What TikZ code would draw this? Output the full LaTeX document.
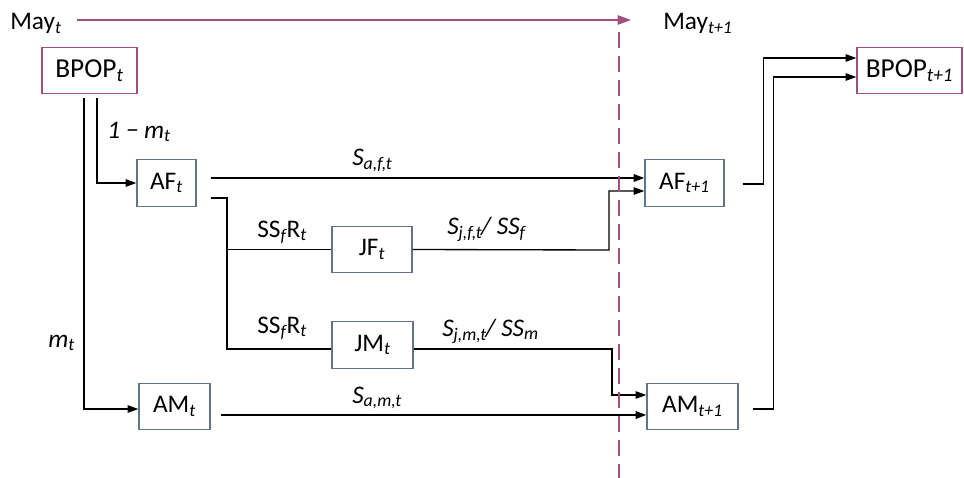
\documentclass[tikz,border=0pt]{standalone}
\usepackage{fontspec}
\setmainfont{Carlito}
\usetikzlibrary{arrows.meta}
\definecolor{mag}{RGB}{160,80,125}
\definecolor{boxgray}{RGB}{100,115,140}
\newcommand{\sbi}[1]{\textsubscript{\itshape #1}}
\begin{document}
\begin{tikzpicture}[x=0.75pt,y=-0.75pt,font=\fontsize{19}{22}\selectfont,
  box/.style={draw=boxgray,line width=0.9pt,minimum height=34.75pt,inner sep=0pt},
  popbox/.style={box,draw=mag,font=\fontsize{20.5}{24}\selectfont},
  lbl/.style={anchor=base west,inner sep=0pt},
  conn/.style={line width=1pt},
  heavy/.style={line width=1.5pt},
  tip/.style={-{Triangle[length=8pt,width=5.5pt]}},
  timeline/.style={draw=mag,line width=1.2pt,-{Triangle[length=10pt,width=7pt]}},
  cut/.style={draw=mag,line width=1.5pt,dash pattern=on 12pt off 6pt},
]
\useasboundingbox (0,0) rectangle (964,478);

% time labels
\node[lbl] (mayt) at (10,30) {May\sbi{t}};
\node[lbl] (mayt1) at (663,30) {May\sbi{t+1}};

% boxes
\node[popbox,minimum width=71.25pt] (BPOPt) at (89.5,70.5) {BPOP\sbi{t}};
\node[box,minimum width=44.25pt] (AFt) at (166.5,183) {AF\sbi{t}};
\node[box,minimum width=53.25pt] (AMt) at (174.5,406.5) {AM\sbi{t}};
\node[box,minimum width=60pt] (JFt) at (372,249.5) {JF\sbi{t}};
\node[box,minimum width=60.75pt] (JMt) at (372.5,345) {JM\sbi{t}};
\node[box,minimum width=59.25pt] (AFt1) at (684.5,183) {AF\sbi{t+1}};
\node[box,minimum width=68.25pt] (AMt1) at (692.5,406.5) {AM\sbi{t+1}};
\node[popbox,minimum width=78.75pt] (BPOPt1) at (909.5,70.5) {BPOP\sbi{t+1}};

% coordinates
\coordinate (ms) at (77,20);
\coordinate (me) at (631,20);
\coordinate (dtop) at (619,32);
\coordinate (dbot) at (619,478);
\coordinate (split) at (227,198);
\coordinate (jfturn) at (609,250);
\coordinate (jmturn) at (612,349);

% timeline arrow
\draw[timeline] (ms) -- (me);

% BPOP_t to AF_t and AM_t
\draw[conn,tip] ([shift={(7.5,4)}]BPOPt.south) |- (AFt.west);
\draw[conn,tip] ([shift={(-5.5,4)}]BPOPt.south) |- ([shift={(0,2.5)}]AMt.west);
\node[lbl] (l1m) at (107,138) {\textit{1 − m}\sbi{t}};
\node[lbl] (lm) at (48,347) {\textit{m}\sbi{t}};

% adult survival
\draw[heavy,tip] ([shift={(14,-5)}]AFt.east) -- ([shift={(0,-5)}]AFt1.west);
\node[lbl] (lsaf) at (352,165) {\textit{S}\sbi{a,f,t}};
\draw[heavy,tip] ([shift={(10,8.5)}]AMt.east) -- ([shift={(0,8.5)}]AMt1.west);
\node[lbl] (lsam) at (352,403) {\textit{S}\sbi{a,m,t}};

% reproduction
\draw[conn] ([shift={(14,15)}]AFt.east) -- (split) |- ([shift={(0,4)}]JMt.west);
\draw[conn] (split |- JFt.west) -- (JFt.west);
\node[lbl] (lssf1) at (257,237) {SS\sbi{f}R\sbi{t}};
\node[lbl] (lssf2) at (257,333) {SS\sbi{f}R\sbi{t}};

% juvenile survival
\draw[conn,tip] (JFt.east) -- (jfturn) |- ([shift={(0,8)}]AFt1.west);
\node[lbl] (lsjf) at (447,234) {\textit{S}\sbi{j,f,t}\kern-1pt\textit{/ SS}\sbi{f}};
\draw[conn,tip] ([shift={(0,4)}]JMt.east) -- (jmturn) |- ([shift={(0,-11.5)}]AMt1.west);
\node[lbl] (lsjm) at (442,336) {\textit{S}\sbi{j,m,t}\kern-1pt\textit{/ SS}\sbi{m}};

% to next breeding population
\draw[conn,tip] ([shift={(18,1)}]AFt1.east) -- ++(21,0) |- ([shift={(0,-12.5)}]BPOPt1.west);
\draw[conn,tip] ([shift={(14,2.5)}]AMt1.east) -- ++(21,0) |- ([shift={(0,6.5)}]BPOPt1.west);

% year boundary
\draw[cut] (dtop) -- (dbot);
\end{tikzpicture}
\end{document}
